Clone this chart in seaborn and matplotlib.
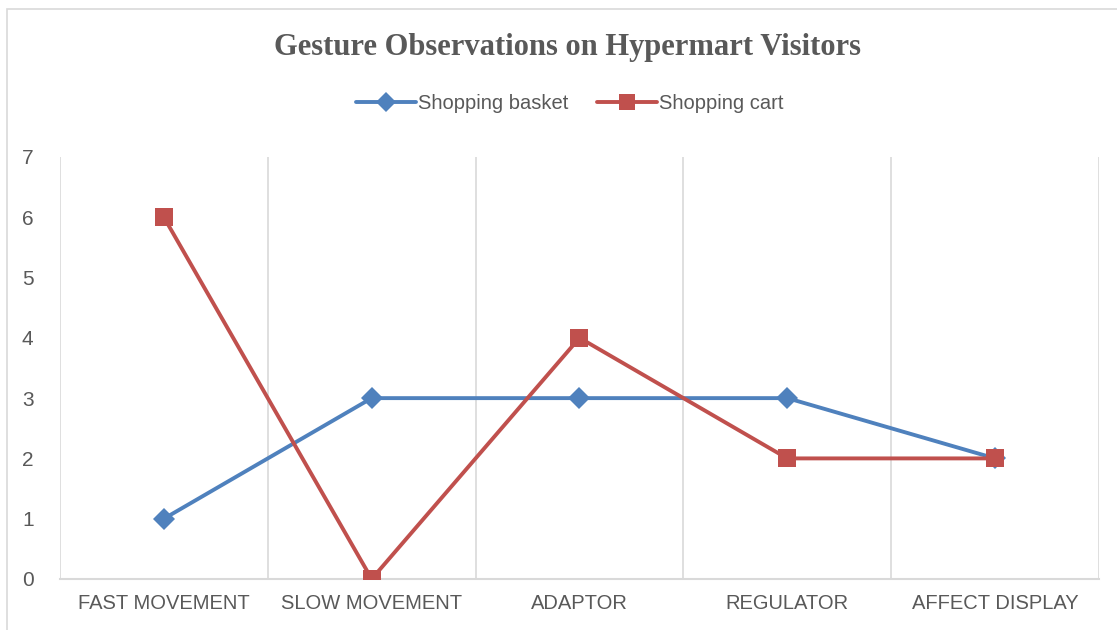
import numpy as np
import pandas as pd
import matplotlib
matplotlib.use("Agg")
import matplotlib.pyplot as plt
import seaborn as sns
from matplotlib.patches import Rectangle

# Data
categories = ["FAST MOVEMENT", "SLOW MOVEMENT", "ADAPTOR", "REGULATOR", "AFFECT DISPLAY"]
basket = [1, 3, 3, 3, 2]
cart = [6, 0, 4, 2, 2]

series_names = ["Shopping basket", "Shopping cart"]
colors = {"Shopping basket": "#4F81BD", "Shopping cart": "#C0504D"}
markers = {"Shopping basket": "D", "Shopping cart": "s"}

df = pd.DataFrame({
    "pos": list(range(len(categories))) * 2,
    "value": basket + cart,
    "series": [series_names[0]] * len(basket) + [series_names[1]] * len(cart),
})

sns.set_style("white")
plt.rcParams["font.family"] = ["Liberation Sans", "DejaVu Sans"]

fig = plt.figure(figsize=(11.17, 6.3), dpi=100)
ax = fig.add_axes([0.0537, 0.081, 0.9302, 0.6698])

sns.lineplot(data=df, x="pos", y="value", hue="series", style="series",
             palette=colors, markers=markers, dashes=False, linewidth=2.8,
             markeredgewidth=0, ax=ax, legend=False, zorder=3)
# square a bit bigger than diamond
for line, ms in zip(ax.lines, [11, 13]):
    line.set_markersize(ms)

ax.set_xlim(-0.5, len(categories) - 0.5)
ax.set_ylim(0, 7)
ax.set_yticks(range(0, 8))
ax.set_xticks(range(len(categories)))
ax.set_xticklabels(categories)
ax.set_xlabel("")
ax.set_ylabel("")

# vertical dividers between categories
for b in np.arange(-0.5, len(categories), 1.0):
    ax.axvline(b, color="#D9D9D9", linewidth=1.2, zorder=1)

for s in ["top", "right", "left"]:
    ax.spines[s].set_visible(False)
ax.spines["bottom"].set_color("#D9D9D9")
ax.spines["bottom"].set_linewidth(1.5)
ax.tick_params(axis="both", length=0, colors="#595959")
ax.tick_params(axis="y", labelsize=15, pad=19)
ax.tick_params(axis="x", labelsize=14.5, pad=11)

fig.text(0.508, 0.925, "Gesture Observations on Hypermart Visitors",
         ha="center", va="center", fontsize=22, fontweight="bold",
         color="#595959", family=["Liberation Serif", "DejaVu Serif"])

handles = [plt.Line2D([], [], color=colors[n], marker=markers[n], linewidth=2.8,
                      markersize=10 if n == series_names[0] else 12, markeredgewidth=0)
           for n in series_names]
fig.legend(handles, series_names, loc="center", bbox_to_anchor=(0.51, 0.835),
           ncol=2, frameon=False, fontsize=14.5, handlelength=3.0,
           handletextpad=0.1, columnspacing=1.4, labelcolor="#595959")

# outer chart border
fig.patches.append(Rectangle((7 / 1117, -0.05), 1.2, 1 - 9 / 630 + 0.05,
                             transform=fig.transFigure, fill=False,
                             edgecolor="#D9D9D9", linewidth=1.2))

fig.savefig("out.png", dpi=100)
